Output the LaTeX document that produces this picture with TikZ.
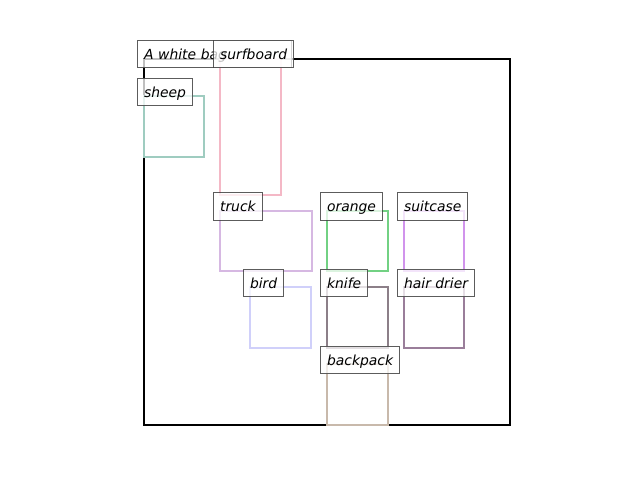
\documentclass[tikz,border=0pt]{standalone}
\usepackage{fontspec}
\setmainfont{DejaVu Sans}
\begin{document}
\begin{tikzpicture}[x=1pt,y=-1pt,
  lbl/.style={draw=black!75,line width=1.1pt,fill=white,fill opacity=0.75,draw opacity=0.85,text opacity=1,
    anchor=west,minimum height=27.5pt,inner xsep=6.5pt,inner ysep=0pt,text height=12pt,text depth=1.5pt,
    font=\fontsize{13.9}{16}\selectfont\itshape},
  obj/.style={line width=2.5pt}]
\useasboundingbox (0,0) rectangle (640,480);
\definecolor{csheep}{HTML}{9FCCC0}
\definecolor{csurf}{HTML}{F4B8C6}
\definecolor{ctruck}{HTML}{D6B8E2}
\definecolor{corange}{HTML}{72D183}
\definecolor{csuit}{HTML}{D194EC}
\definecolor{cbird}{HTML}{D0D0FA}
\definecolor{cknife}{HTML}{8C7F88}
\definecolor{chair}{HTML}{9A7E9A}
\definecolor{cback}{HTML}{C8B9AB}
% axes
\draw[line width=2pt] (144,59) rectangle (510,425);
% objects
\draw[obj,csheep] (144,96) rectangle (204,157);
\draw[obj,csurf] (220,59) rectangle (281,195);
\draw[obj,ctruck] (220,211) rectangle (312,271);
\draw[obj,corange] (327,211) rectangle (388,271);
\draw[obj,csuit] (404,211) rectangle (464,271);
\draw[obj,cbird] (250,287) rectangle (311,348);
\draw[obj,cknife] (327,287) rectangle (388,348);
\draw[obj,chair] (404,287) rectangle (464,348);
\draw[obj,cback] (327,364) rectangle (388,425);
% labels
\node[lbl,text width=141pt] (lbag) at (137,54) {A white bag};
\node[lbl] (lsurf) at (213,54) {surfboard};
\node[lbl] (lsheep) at (137,92) {sheep};
\node[lbl] (ltruck) at (213,206.5) {truck};
\node[lbl] (lorange) at (320,206.5) {orange};
\node[lbl] (lsuit) at (397,206.5) {suitcase};
\node[lbl] (lbird) at (243,283) {bird};
\node[lbl] (lknife) at (320,283) {knife};
\node[lbl] (lhair) at (397,283) {hair drier};
\node[lbl] (lback) at (320,360) {backpack};
\end{tikzpicture}
\end{document}
